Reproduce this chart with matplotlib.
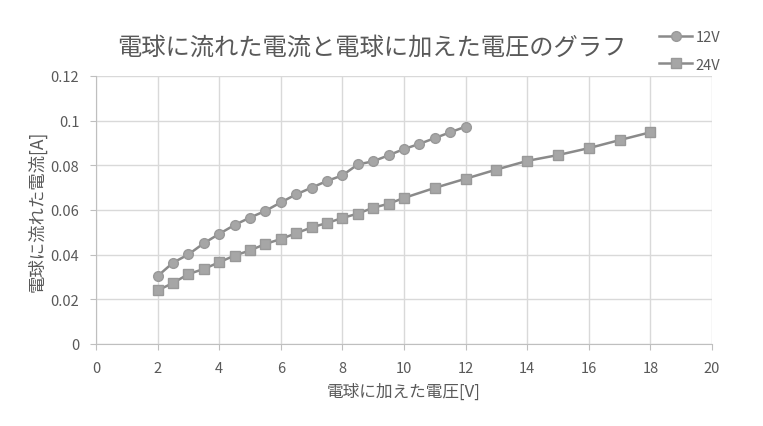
import matplotlib
matplotlib.use('Agg')
import matplotlib.pyplot as plt

plt.rcParams['font.family'] = ['Noto Sans CJK JP', 'DejaVu Sans']

# 12V series (step 0.5 V)
volt_12 = [2, 2.5, 3, 3.5, 4, 4.5, 5, 5.5, 6, 6.5, 7, 7.5, 8, 8.5, 9, 9.5, 10, 10.5, 11, 11.5, 12]
amp_12 = [0.0304, 0.0364, 0.0401, 0.0451, 0.0493, 0.0533, 0.0566, 0.0596, 0.0634, 0.0670, 0.0700,
          0.0730, 0.0755, 0.0804, 0.0818, 0.0845, 0.0873, 0.0896, 0.0922, 0.0948, 0.0973]

# 24V series
volt_24 = [2, 2.5, 3, 3.5, 4, 4.5, 5, 5.5, 6, 6.5, 7, 7.5, 8, 8.5, 9, 9.5, 10, 11, 12, 13, 14, 15, 16, 17, 18]
amp_24 = [0.0240, 0.0273, 0.0313, 0.0336, 0.0366, 0.0396, 0.0419, 0.0448, 0.0470, 0.0496, 0.0522,
          0.0542, 0.0564, 0.0584, 0.0610, 0.0628, 0.0654, 0.0699, 0.0740, 0.0781, 0.0820, 0.0846,
          0.0877, 0.0913, 0.0948]

x_ticks = [0, 2, 4, 6, 8, 10, 12, 14, 16, 18, 20]
y_ticks = [0, 0.02, 0.04, 0.06, 0.08, 0.1, 0.12]
y_labels = ['0', '0.02', '0.04', '0.06', '0.08', '0.1', '0.12']

txt = '#595959'
grid = '#d9d9d9'
line_c = '#8a8a8a'
mark_c = '#a6a6a6'

fig = plt.figure(figsize=(7.63, 4.27), dpi=100)
ax = fig.add_axes([96 / 763, 1 - 345 / 427, (712 - 96) / 763, (345 - 77) / 427])

ax.plot(volt_12, amp_12, color=line_c, lw=1.8, marker='o', ms=7,
        mfc=mark_c, mec='#999999', label='12V', zorder=3)
ax.plot(volt_24, amp_24, color=line_c, lw=1.8, marker='s', ms=7,
        mfc=mark_c, mec='#999999', label='24V', zorder=3)

ax.set_xlim(0, 20)
ax.set_ylim(0, 0.12)
ax.set_xticks(x_ticks)
ax.set_yticks(y_ticks)
ax.set_yticklabels(y_labels)
ax.grid(True, color=grid, lw=1)
ax.set_axisbelow(True)
for s in ['top', 'right']:
    ax.spines[s].set_visible(False)
for s in ['left', 'bottom']:
    ax.spines[s].set_color('#bfbfbf')
ax.tick_params(colors='#bfbfbf', labelcolor=txt, labelsize=10.5, length=4, pad=8)

ax.set_xlabel('電球に加えた電圧[V]', fontsize=12, color=txt, labelpad=6)
ax.set_ylabel('電球に流れた電流[A]', fontsize=12.5, color=txt, labelpad=3)

fig.text(372 / 763, 1 - 48 / 427, '電球に流れた電流と電球に加えた電圧のグラフ',
         ha='center', va='center', fontsize=17.5, color=txt)

fig.legend(loc='center', bbox_to_anchor=(690 / 763, 1 - 52 / 427), frameon=False,
           fontsize=10.5, labelcolor=txt, handlelength=2.2, labelspacing=0.9,
           handletextpad=0.3)

fig.savefig('out.png', dpi=100, facecolor='white')
